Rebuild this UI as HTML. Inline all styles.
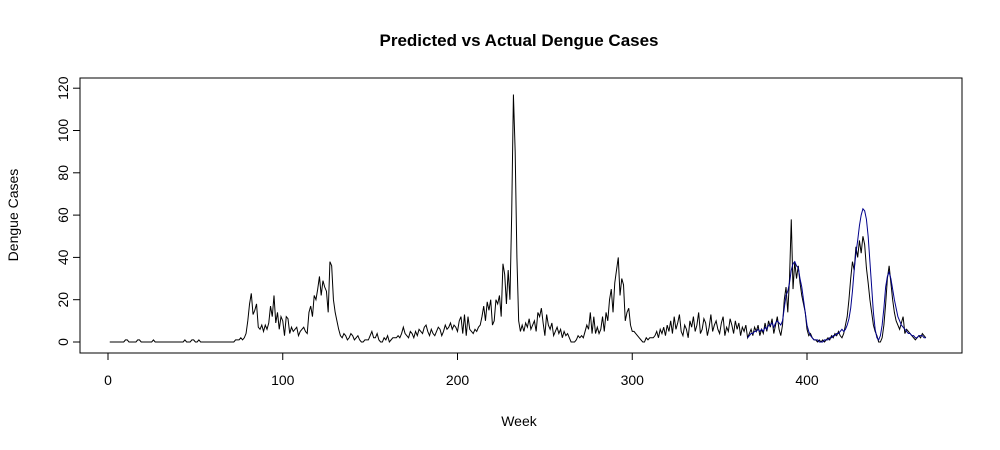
<!DOCTYPE html>
<html><head><meta charset="utf-8"><style>
body{margin:0;background:#fff;}
svg{display:block;font-family:"Liberation Sans",Arial,sans-serif;}
</style></head><body>
<svg id="chart" width="1000" height="450">
<text x="519" y="46" text-anchor="middle" font-size="17" font-weight="bold">Predicted vs Actual Dengue Cases</text>
<text x="519" y="426" text-anchor="middle" font-size="14">Week</text>
<text transform="translate(18,215) rotate(-90)" text-anchor="middle" font-size="14">Dengue Cases</text>
<rect x="80" y="78" width="882" height="275" fill="none" stroke="#000"/>
<g id="axes"></g>
<g id="series"></g>
</svg>
<script>
const xTicks=[0,100,200,300,400];
const yTicks=[0,20,40,60,80,100,120];
const actualA=[0,0,0,0,0,0,0,0,0,1, 1,0,0,0,0,0,1,1,0,0, 0,0,0,0,0,1,0,0,0,0, 0,0,0,0,0,0,0,0,0,0, 0,0,0,1,0,0,0,1,1,0, 0,1,0,0,0,0,0,0,0,0, 0,0,0,0,0,0,0,0,0,0, 0,0,1,1,1,2,1];
const actualB=[2,4,10,18,23,13,15,18,7,6,8,5,8,6,9,17,12,22,9,14,6,12,10,3,12,11,4,7,5,6,7,3,5,6,7,5,4,14,17,12,22,20,25,31,22,29,26,24,14,38,36,20,14,10,6,3,2,4,3,1,2,4,3,1,2,3,1,0,0,1,1,1,3,5,2,2,4,1,0,0,2,1,3,0,1,2,2,2,3,2,4,7,4,3,2,5,4,2,5];
const actualC=[3,6,5,4,7,8,5,3,6,4,3,5,7,6, 3,5,8,6,7,9,6,8,7,5,10,12,4,13,3,12,6,5,4,6,5,7,8,12,17,10,19,15,20,8];
const actualD=[10,20,18,22,12,37,32,18,34,20,60,117,90,40,10,5];
const actualE=[8,5,9,7,11,6,8,10,5,14,12,16,9,3,13,8,6,9,3,5,7,4,6,2,5,3,4,2,0,0,0,1,3,2,3,2,5,8,6,14,4,12,4,7];
const actualF=[4,6,12,5,14,10,20,25,14,28,34,40,22,30,27,10,14,16,8,5,5,4,3,2,1,0,0,2,1,2,2,2,3,5,2,6,4];
const actualG=[7,3,8,5,10,4,12,6,9,13,5,3,8,6,2,10,7,12,5,8,14,4,6,11,9,3,7,13,5,8,10,6,4,9,12,3,7,5,11,8,4,10,6,9,3,7,5,8];
const actualH=[2,4,6,3,7,5,8,3,6,4,9,5,10,7,11,4,8,12,6,3, 8,20,26,14,30,58,25,38,30,36,28,22,18,14,6, 3,4,2,1,1,0,1,0,1,0,1,2,1,3,2,4,3,5,3,2, 4,8,12,20,30,38,34,45,40,48,42,50,46,35, 28,20,14,8,5,3,0,0,2,8,18,30,36,28,20,14, 10,8,6,9,12,4,6,5,4,3,2,1,2,3,2,4,3,2];
const actual=[].concat(actualA,actualB,actualC,actualD,actualE,actualF,actualG,actualH);
const predStart=366;
const predicted=[2,3,4,4,5,5,6,5,6,5,7,6,8,8,9,7,9,10,9,8, 10,16,22,24,28,34,37,38,36,35,30,26,20,14,8, 5,3,2,1,1,1,0,0,0,1,1,1,2,2,3,3,4,4,5,6, 5,6,8,11,16,24,34,42,48,55,60,63,62,58, 50,38,26,14,6,2,1,3,8,16,26,31,33,30,25,20, 16,12,10,8,7,6,5,4,4,3,3,2,2,3,3,3,2,2];
const X=w=>108+w*1.7475;
const Y=v=>342-v*2.115;
const NS="http://www.w3.org/2000/svg";
const axes=document.getElementById('axes');
function mk(t,a,p){const e=document.createElementNS(NS,t);for(const k in a)e.setAttribute(k,a[k]);p.appendChild(e);return e;}
xTicks.forEach(t=>{
 const l=mk('line',{x1:X(t),x2:X(t),y1:353,y2:360,stroke:'#000'},axes);
 
 
 const tx=mk('text',{x:X(t),y:385,'text-anchor':'middle','font-size':14},axes);tx.textContent=t;
 
 
});
mk('line',{x1:X(0),x2:X(400),y1:353,y2:353,stroke:'#000'},axes);
yTicks.forEach(t=>{
 const l=mk('line',{x1:73,x2:80,y1:Y(t),y2:Y(t),stroke:'#000'},axes);
 
 
 const tx=mk('text',{transform:`translate(68,${Y(t)}) rotate(-90)`,'text-anchor':'middle','font-size':14},axes);tx.textContent=t;
 
 
});
const ser=document.getElementById('series');
const pa=actual.map((v,i)=>X(i+1).toFixed(2)+','+Y(v).toFixed(2)).join(' ');
const la=mk('polyline',{points:pa,fill:'none',stroke:'#000','stroke-width':1},ser);


const pp=predicted.map((v,i)=>X(predStart+i).toFixed(2)+','+Y(v).toFixed(2)).join(' ');
const lp=mk('polyline',{points:pp,fill:'none',stroke:'#00008b','stroke-width':1},ser);


</script>
</body></html>
